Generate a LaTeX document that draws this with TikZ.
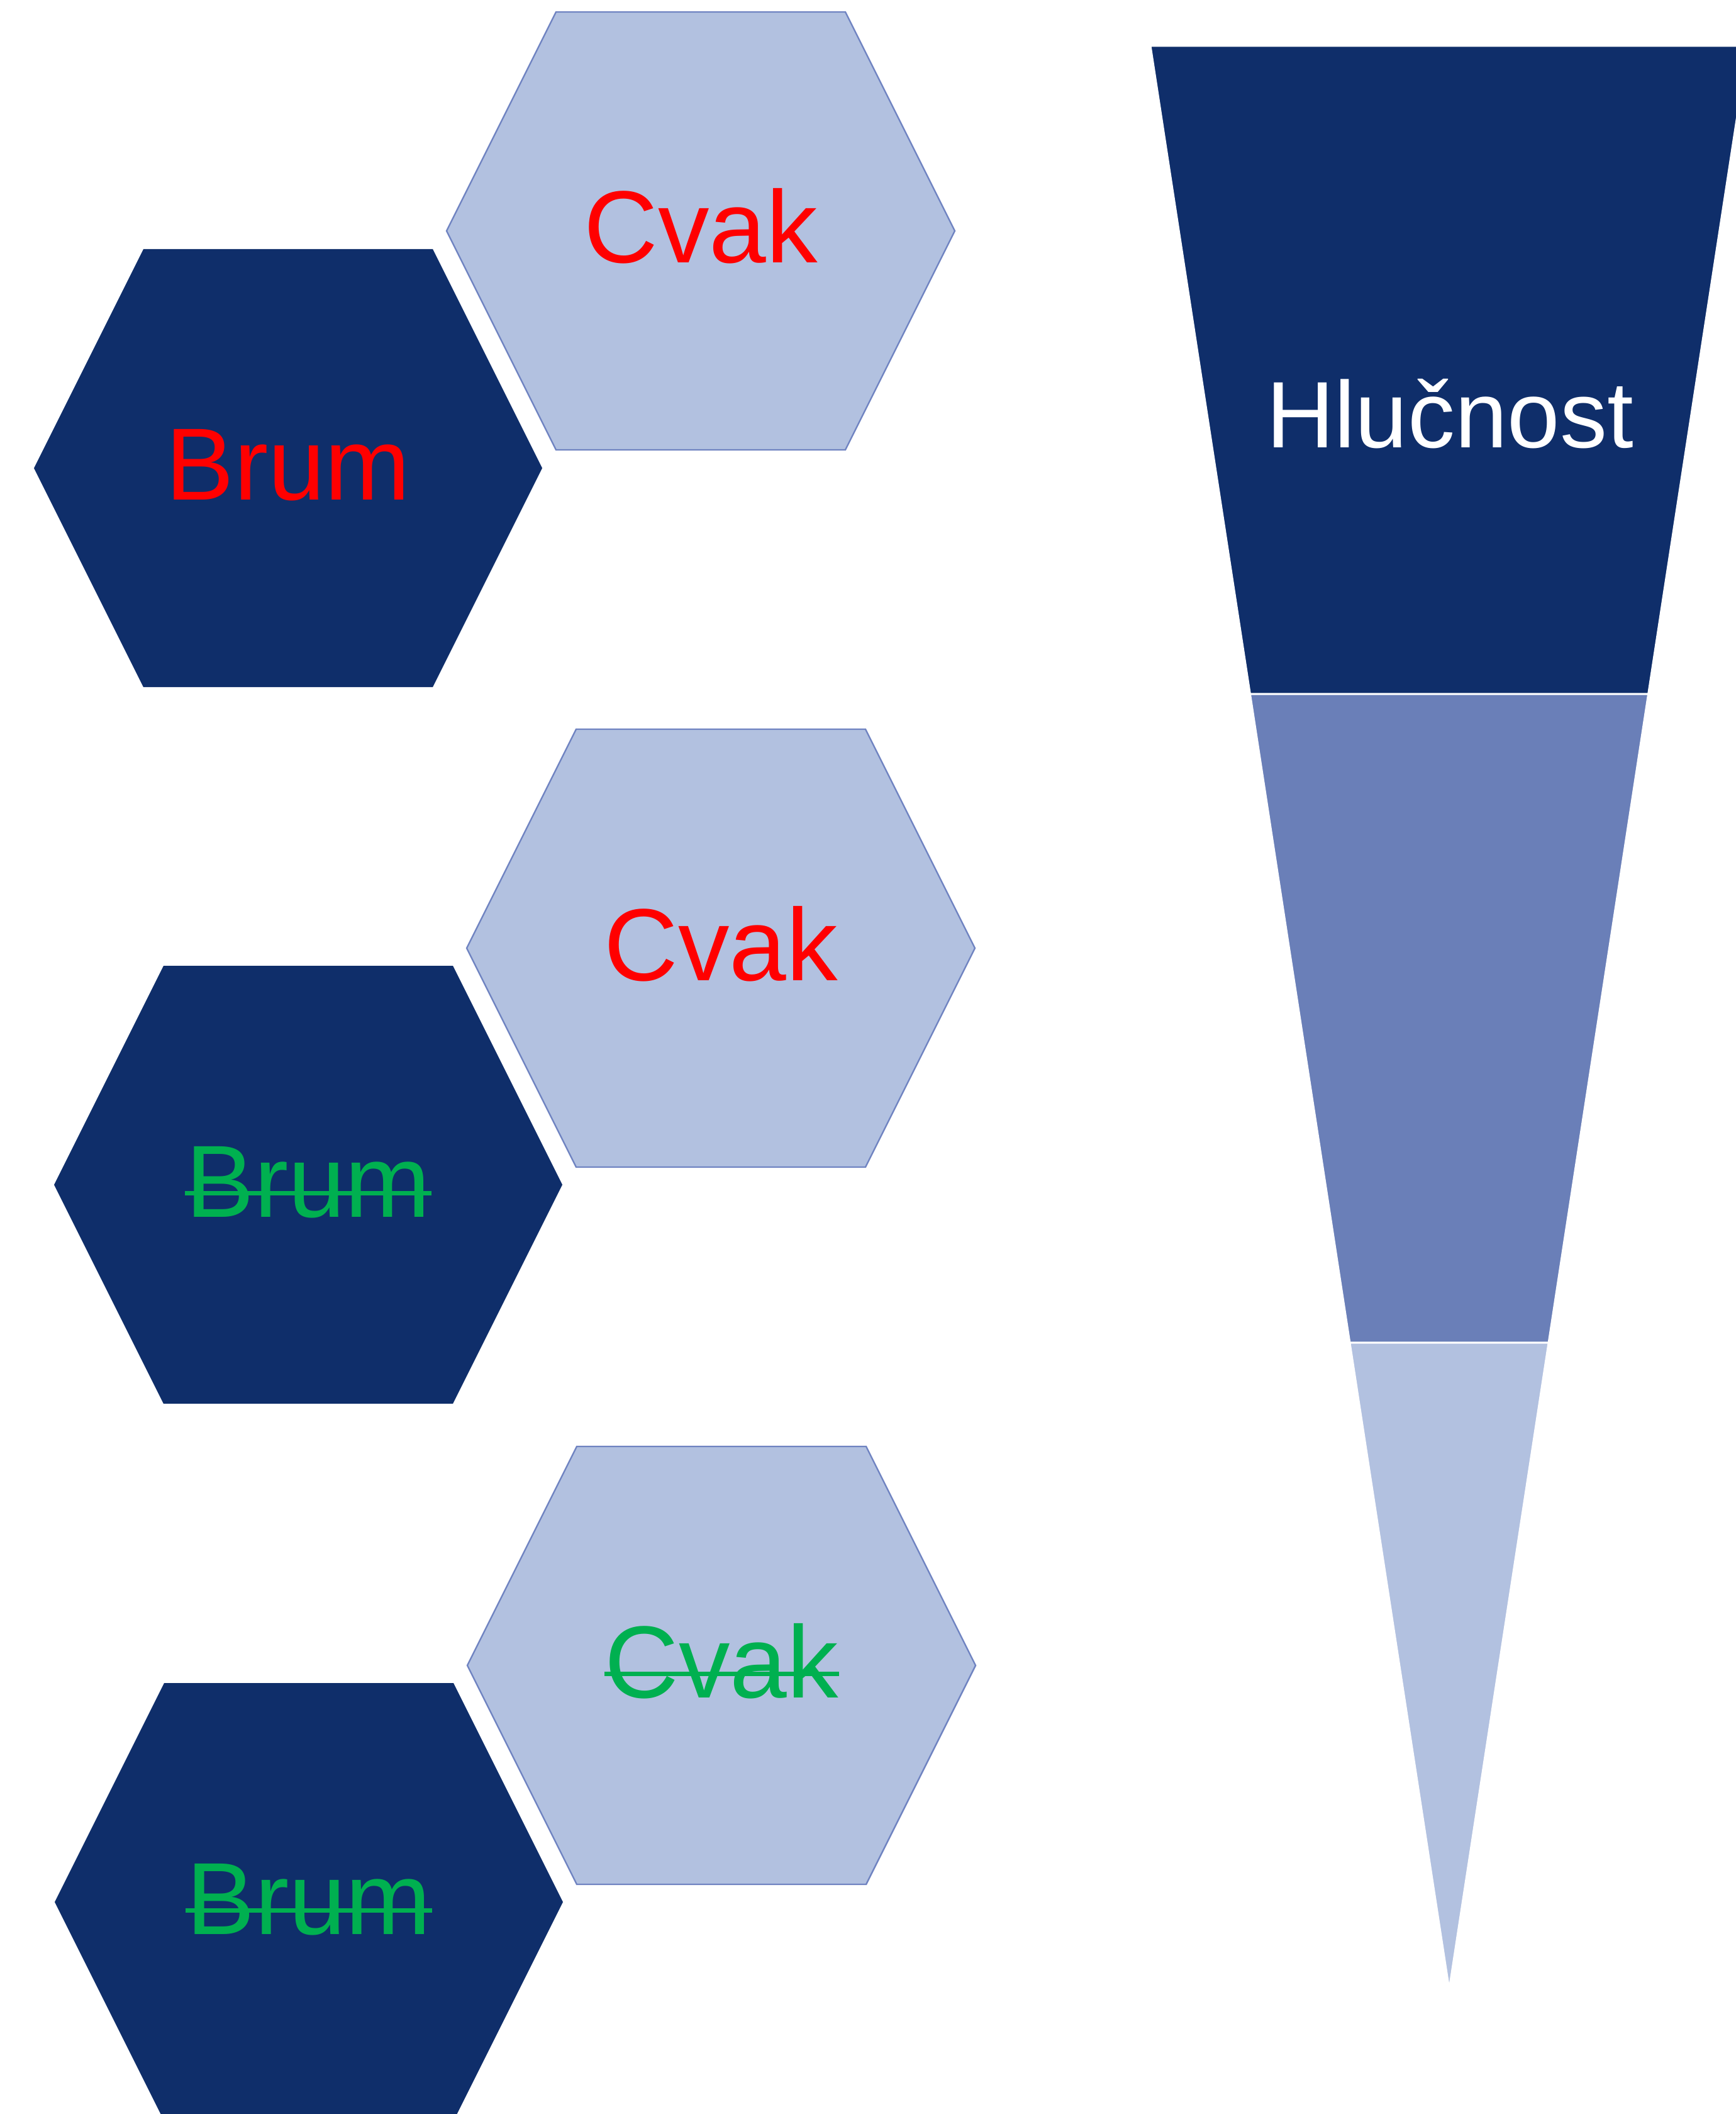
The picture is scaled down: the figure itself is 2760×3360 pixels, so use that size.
\documentclass[tikz,border=0pt]{standalone}
\usepackage{fontspec}
\setmainfont{Liberation Sans}
\definecolor{navy}{RGB}{15,46,106}
\definecolor{midblue}{RGB}{106,127,184}
\definecolor{lightblue}{RGB}{178,193,224}
\definecolor{hexline}{RGB}{111,131,193}
\definecolor{offgreen}{RGB}{0,176,80}
\newcommand\myhex[3]{\path[#3] (#1,#2) ++(-404,0) -- ++(174,-348) -- ++(460,0) -- ++(174,348) -- ++(-174,348) -- ++(-460,0) -- cycle;}
\begin{document}
\begin{tikzpicture}[x=0.25pt,y=-0.25pt,
  darkhex/.style={fill=navy},
  lighthex/.style={fill=lightblue,draw=hexline,line width=0.6pt},
  lbl/.style={inner sep=0pt,anchor=base,font=\fontsize{40.75}{48}\selectfont},
  onred/.style={lbl,text=red},
  ongreen/.style={lbl,text=offgreen},
  strike/.style={draw=offgreen,line width=1.9pt},
  seg/.style={draw=white,line width=0.75pt}]
\useasboundingbox (0,0) rectangle (2760,3360);
\begin{scope}
\clip (0,0) rectangle (2760,3360);
% hexagons
\myhex{1114}{367}{lighthex}
\myhex{458}{744}{darkhex}
\myhex{1146}{1507}{lighthex}
\myhex{490}{1883}{darkhex}
\myhex{1147}{2647}{lighthex}
\myhex{491}{3023}{darkhex}
% labels
\node[onred] (cvakA) at (1114,418) {Cvak};
\node[onred] (brumA) at (458,794) {Brum};
\node[onred] (cvakB) at (1146,1558) {Cvak};
\node[ongreen] (brumB) at (490,1934) {Brum};
\node[ongreen] (cvakC) at (1147,2698) {Cvak};
\node[ongreen] (brumC) at (491,3074) {Brum};
\draw[strike] ([yshift=9.4pt]brumB.base west) -- ([yshift=9.4pt]brumB.base east);
\draw[strike] ([yshift=9.4pt]cvakC.base west) -- ([yshift=9.4pt]cvakC.base east);
\draw[strike] ([yshift=9.4pt]brumC.base west) -- ([yshift=9.4pt]brumC.base east);
% funnel
\path[seg,fill=navy] (1829,73) -- (2779,73) -- (2620.6,1103) -- (1987.4,1103) -- cycle;
\path[seg,fill=midblue] (1987.4,1103) -- (2620.6,1103) -- (2462.1,2134) -- (2145.9,2134) -- cycle;
\path[seg,fill=lightblue] (2145.9,2134) -- (2462.1,2134) -- (2304,3162) -- cycle;
\node[lbl,text=white,font=\fontsize{37.5}{45}\selectfont] (hluc) at (2305,711) {Hlučnost};
\end{scope}
\end{tikzpicture}
\end{document}
